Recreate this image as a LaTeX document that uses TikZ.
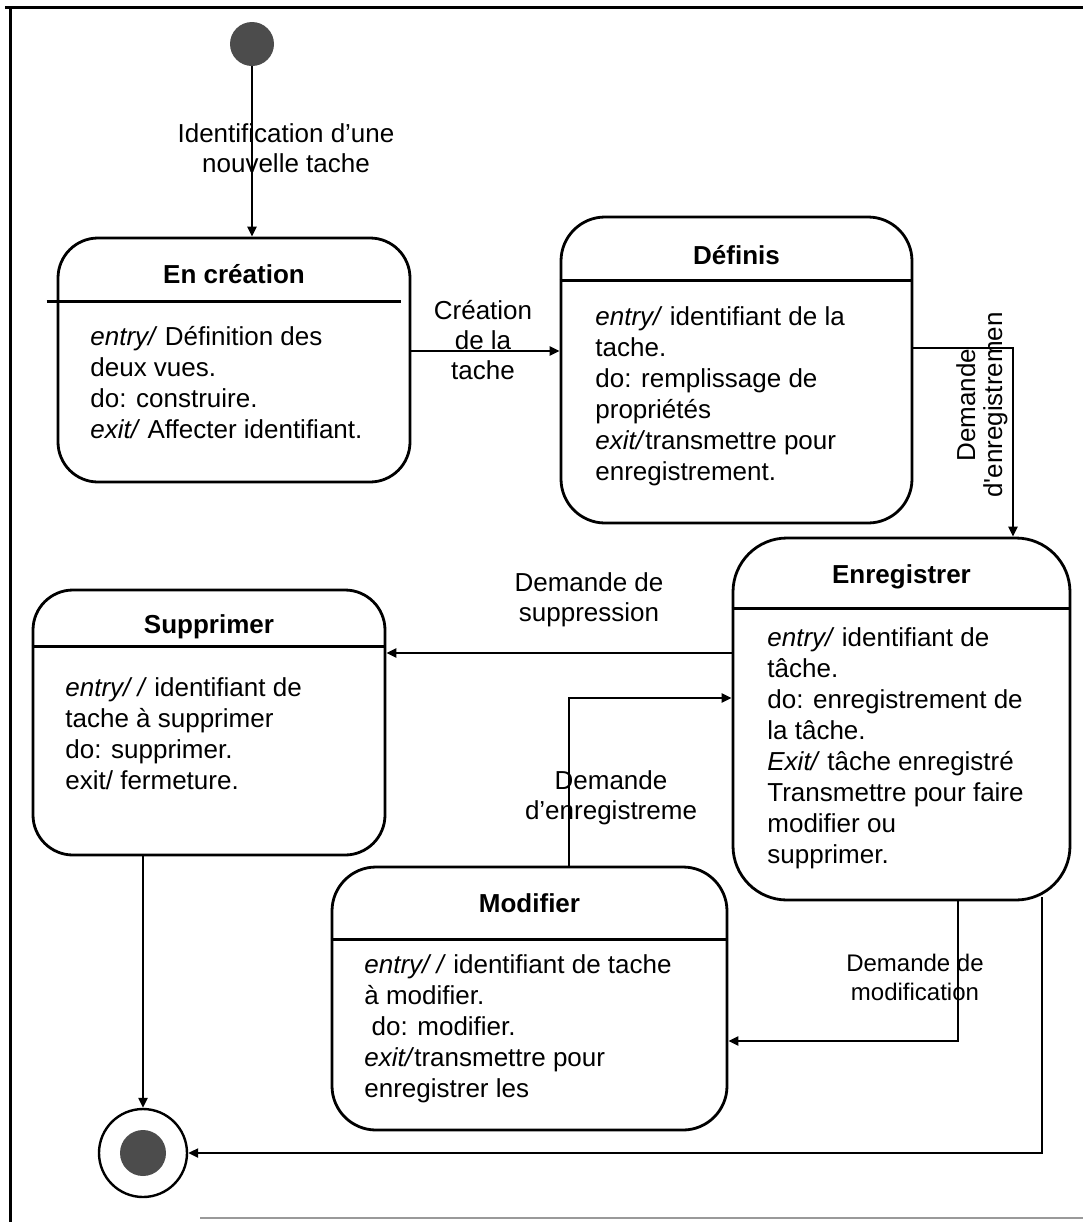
\documentclass[tikz,border=0pt]{standalone}
\usepackage{fontspec}
\setmainfont{Liberation Sans}
\usetikzlibrary{arrows.meta}

\begin{document}
\begin{tikzpicture}[x=0.5pt, y=-0.5pt,
  state/.style={draw, line width=1.4pt, rounded corners=20pt},
  title/.style={font=\bfseries\fontsize{13}{15.5}\selectfont},
  body/.style={font=\fontsize{13}{15.5}\selectfont, align=left, anchor=north west},
  trlabel/.style={font=\fontsize{13}{15}\selectfont, align=center},
  trans/.style={line width=1.1pt, -{Triangle[length=5pt, width=4.5pt]}},
  divider/.style={line width=1.4pt}]
\tikzstyle{every node}+=[inner sep=0pt]
\useasboundingbox (0,0) rectangle (1083,1222);

% cadre
\draw[line width=1.5pt] (5,7) -- (1083,7);
\draw[line width=1.5pt] (10,7) -- (10,1222);
\draw[black!40, line width=1pt] (200,1218) -- (1083,1218);

% etats
\node[circle, fill=black!70, minimum size=22pt] (init) at (252,44) {};
\node[state, minimum width=176pt, minimum height=122pt] (creation) at (234,360) {};
\node[state, minimum width=175.5pt, minimum height=153pt, rounded corners=22pt] (definis) at (736.5,370) {};
\node[state, minimum width=168.5pt, minimum height=181pt, rounded corners=27pt] (enreg) at (901.5,719) {};
\node[state, minimum width=176pt, minimum height=132.5pt] (supp) at (209,722.5) {};
\node[state, minimum width=197.5pt, minimum height=131.5pt, rounded corners=22pt] (modif) at (529.5,998.5) {};
\node[circle, draw, line width=1.2pt, minimum size=44pt] (final) at (143,1153) {};
\node[circle, fill=black!70, minimum size=23pt] (final-dot) at (final) {};

\foreach \s/\d/\o in {creation/-32.5pt/-5pt, definis/-32.5pt/0pt, enreg/-36pt/0pt, supp/-29pt/0pt, modif/-37pt/0pt}
  \draw[divider] ([shift={(\o,\d)}]\s.north west) -- ([shift={(\o,\d)}]\s.north east);

\node[title] at ([yshift=-18.5pt]creation.north) {En création};
\node[title] at ([yshift=-19.5pt]definis.north) {Définis};
\node[title] at ([yshift=-20pt]enreg.north) {Enregistrer};
\node[title] at ([yshift=-19pt]supp.north) {Supprimer};
\node[title] at ([yshift=-19pt]modif.north) {Modifier};

\node[body] (creation-body) at (90,325.5) {\textit{entry/} Définition des\\deux vues.\\do: construire.\\\textit{exit/} Affecter identifiant.};
\node[body] (definis-body) at (595,306.5) {\textit{entry/} identifiant de la\\tache.\\do: remplissage de\\propriétés\\\textit{exit/}transmettre pour\\enregistrement.};
\node[body] (enreg-body) at (767,627.5) {\textit{entry/} identifiant de\\tâche.\\do: enregistrement de\\la tâche.\\\textit{Exit/} tâche enregistré\\Transmettre pour faire\\modifier ou\\supprimer.};
\node[body] (supp-body) at (65,677.5) {\textit{entry/ /} identifiant de\\tache à supprimer\\do: supprimer.\\exit/ fermeture.};
\node[body] (modif-body) at (364,954.5) {\textit{entry/ /} identifiant de tache\\à modifier.\\\ do: modifier.\\\textit{exit/}transmettre pour\\enregistrer les};

% transitions
\draw[trans] (init) -- (init |- creation.north);
\node[trlabel] (l-init) at (286,148) {Identification d’une\\nouvelle tache};

\coordinate (c1) at ([yshift=4.5pt]creation.east);
\draw[trans] (c1) -- (c1 -| definis.west);
\node[trlabel] (l-creation) at (483,340) {Création\\de la\\tache};

\coordinate (d1) at ([yshift=11pt]definis.east);
\draw[trans] (d1) -| ([xshift=55.75pt]enreg.north);
\node[trlabel, rotate=90, font=\fontsize{13}{13.5}\selectfont] (l-definis) at (982,405) {Demande\\d\textquotesingle enregistremen};

\coordinate (e1) at ([yshift=33pt]enreg.west);
\draw[trans] (e1) -- (e1 -| supp.east);
\node[trlabel] (l-supp) at (589,600) {Demande de\\suppression};

\coordinate (m1) at ([xshift=19.75pt]modif.north);
\coordinate (e2) at ([yshift=10.5pt]enreg.west);
\draw[trans] (m1) |- (e2);
\node[trlabel] (l-modif) at (611,798) {Demande\\d’enregistreme};

\coordinate (e3) at ([xshift=28.25pt]enreg.south);
\coordinate (m2) at ([yshift=-21.25pt]modif.east);
\draw[trans] (e3) |- (m2);
\node[trlabel, font=\fontsize{12}{14.5}\selectfont] (l-enreg) at (915,977) {Demande de\\modification};

\coordinate (e4) at ([xshift=70.25pt, yshift=2pt]enreg.south);
\draw[trans] (e4) |- (final);
\draw[trans] (supp.south -| final) -- (final);
\end{tikzpicture}
\end{document}
